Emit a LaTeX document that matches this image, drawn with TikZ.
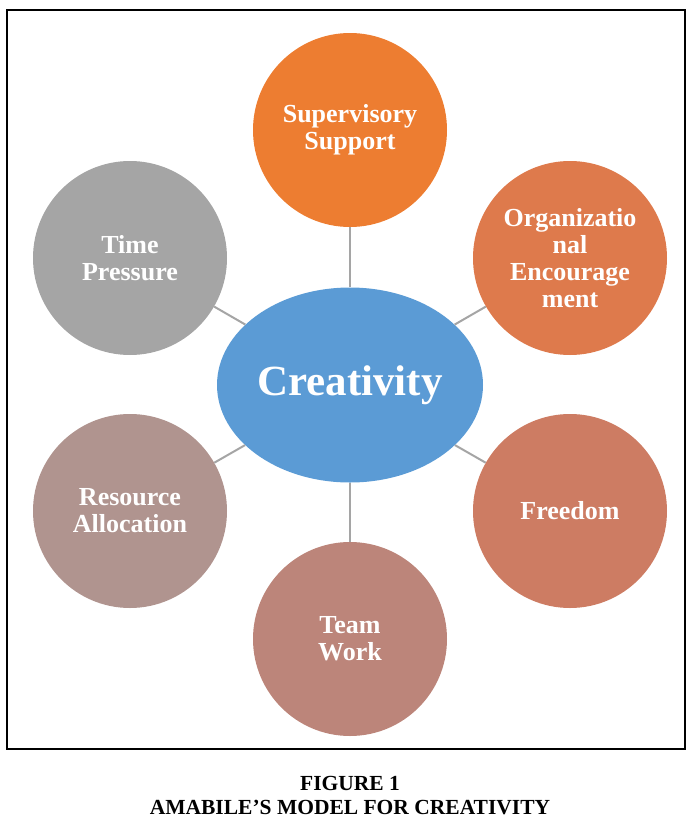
\documentclass[tikz,border=0pt]{standalone}
\usepackage{fontspec}
\setmainfont{Liberation Serif}
\usetikzlibrary{shapes.geometric}
\definecolor{cSup}{HTML}{ED7D31}
\definecolor{cOrg}{HTML}{DE7A4C}
\definecolor{cFree}{HTML}{CD7C63}
\definecolor{cTeam}{HTML}{BC857A}
\definecolor{cRes}{HTML}{B0948F}
\definecolor{cTime}{HTML}{A5A5A5}
\definecolor{cCre}{HTML}{5B9BD5}
\definecolor{cLine}{HTML}{A5A5A5}
\begin{document}
\begin{tikzpicture}[x=1pt,y=-1pt,
  bubble/.style={circle,minimum size=194pt,inner sep=0pt,text=white,align=center,
    font=\fontsize{26}{27}\selectfont\bfseries},
  link/.style={draw=cLine,line width=2pt},
  captxt/.style={font=\fontsize{21.5}{24}\selectfont\bfseries,align=center}]
\useasboundingbox (0,0) rectangle (698,828);
\draw[line width=2pt] (7,10) rectangle (685,749);
\node[ellipse,fill=cCre,minimum width=266pt,minimum height=195pt,inner sep=0pt,text=white,
  font=\fontsize{43}{46}\selectfont\bfseries] (cre) at (350,385) {Creativity};
\node[bubble,fill=cSup] (sup) at (350,130) {Supervisory\\Support};
\node[bubble,fill=cOrg] (org) at (570,258) {Organizatio\\nal\\Encourage\\ment};
\node[bubble,fill=cFree] (free) at (570,511) {Freedom};
\node[bubble,fill=cTeam] (team) at (350,639) {Team\\Work};
\node[bubble,fill=cRes] (res) at (130,511) {Resource\\Allocation};
\node[bubble,fill=cTime] (time) at (130,258) {Time\\Pressure};
\foreach \n in {sup,org,free,team,res,time}{\draw[link] (cre) -- (\n);}
\node[captxt] (cap) at (350,796) {FIGURE 1\\AMABILE'S MODEL FOR CREATIVITY};
\end{tikzpicture}
\end{document}
